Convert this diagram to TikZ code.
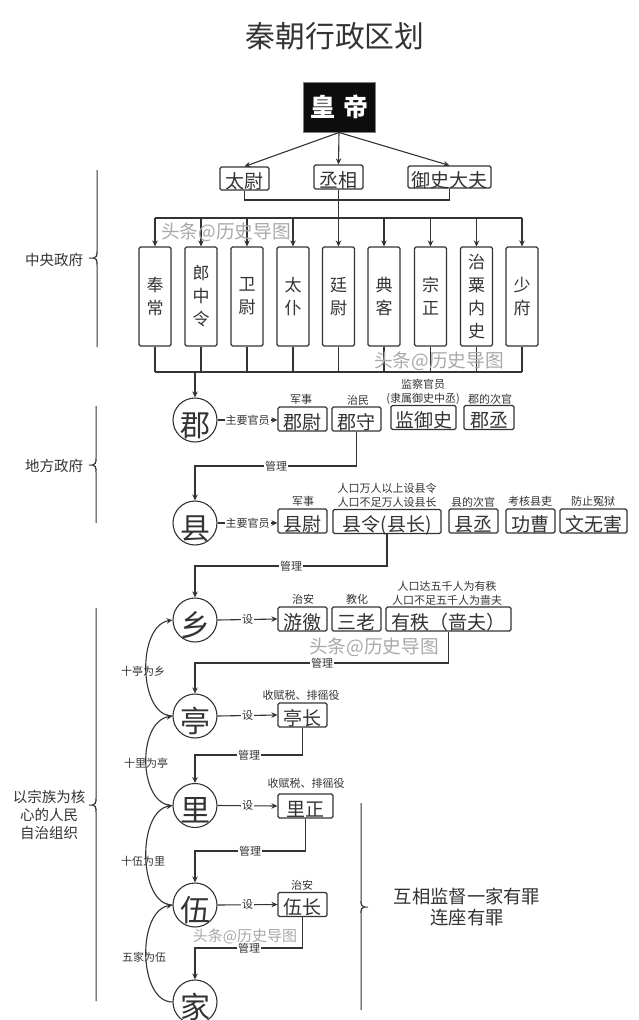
\documentclass[tikz,border=0pt]{standalone}
\usepackage{xcolor}
\usepackage{fontspec}
\setmainfont{Noto Sans CJK SC}
\usetikzlibrary{arrows.meta,positioning}
\definecolor{ink}{HTML}{333333}
\definecolor{mark}{HTML}{A8A8A8}
\newcommand{\fsz}[1]{\fontsize{#1}{#1}\selectfont}
\tikzset{
  line/.style={draw=ink,line width=1.1pt},
  arr/.style={line,-{Stealth[length=6pt,width=5.5pt]}},
  office/.style={draw=ink,line width=1.1pt,rounded corners=1.5pt,inner sep=0pt,text=ink,
    font=\fsz{19},minimum height=24pt,text height=20pt,text depth=0pt},
  tallbox/.style={draw=ink,line width=1.1pt,rounded corners=1.5pt,inner sep=0pt,text=ink,
    font=\fontsize{17}{23}\selectfont,minimum width=32pt,minimum height=99pt,align=center},
  area/.style={circle,draw=ink,line width=1.1pt,inner sep=0pt,text=ink,font=\fsz{30},
    minimum size=44pt,text height=32pt,text depth=0pt},
  note/.style={text=ink,font=\fsz{11},align=center,inner sep=0pt},
  edgetext/.style={note,fill=white,inner sep=1pt},
  side/.style={text=ink,font=\fsz{14.5},align=center,inner sep=0pt},
  wmark/.style={text=mark,font=\fsz{18.7},inner sep=0pt},
}
\begin{document}
\begin{tikzpicture}[x=1pt,y=-1pt]
\path[use as bounding box,clip] (0,0) rectangle (638,1020);

\node[text=ink,font=\fsz{29.8},inner sep=0pt] (title) at (335,36) {秦朝行政区划};

% court
\node[draw=gray,line width=1pt,fill=black!95,text=white,font=\fsz{25}\bfseries,
  minimum width=72pt,minimum height=50pt,inner sep=0pt] (emperor) at (339,107) {皇\hspace{8pt}帝};
\node[office,minimum width=49pt,minimum height=23pt] (taiwei) at (244.5,178.5) {太尉};
\node[office,minimum width=49pt] (chengxiang) at (338.5,177) {丞相};
\node[office,minimum width=83pt,minimum height=22pt] (yushi) at (449.5,177) {御史大夫};
\foreach \n in {taiwei,chengxiang,yushi}
  \draw[arr] (emperor.south) -- (\n.north);

\coordinate (bustop) at (338.5,218);
\coordinate (busbot) at (195,372);
\draw[line] (taiwei.south) |- (338.5,200) -| (yushi.south);

\foreach \n/\x/\t in {fengchang/155/奉\\常, langzhong/201/郎\\中\\令, weiwei/247/卫\\尉,
  taipu/293/太\\仆, tingwei/338.5/廷\\尉, dianke/384/典\\客, zongzheng/430.5/宗\\正,
  zhisu/476.5/治\\粟\\内\\史, shaofu/522/少\\府}{
  \node[tallbox] (\n) at (\x,296.5) {\t};
  \draw[arr] (\n.north |- bustop) -- (\n.north);
  \draw[line] (\n.south) -- (\n.south |- busbot);
}
\draw[line] (chengxiang.south) -- (bustop);
\draw[line] (fengchang.north |- bustop) -- (shaofu.north |- bustop);
\draw[line] (fengchang.south |- busbot) -- (shaofu.south |- busbot);

% circles
\foreach \n/\y/\t in {jun/420/郡, xian/523/县, xiang/620/乡, ting/716/亭, li/805.5/里, wu/905/伍, jia/1002/家}
  \node[area] (\n) at (195,\y) {\t};
\draw[arr] (busbot) -- (jun.north);

% offices
\foreach \n/\x/\y/\w/\t in {junwei/302.5/419/49/郡尉, junshou/356.5/419/49/郡守, jianyu/423.5/417.5/65/监御史,
  juncheng/489/417.5/50/郡丞, xianwei/302.5/521/49/县尉, xianling/387/521.5/108/县令(县长),
  xiancheng/473.5/521/49/县丞, gongcao/530.5/521/49/功曹, wenwu/593.5/521/67/文无害,
  youjiao/302.5/619/49/游徼, sanlao/356.5/619/49/三老, youzhi/448.5/619/125/有秩（啬夫）,
  tingzhang/302.5/715/49/亭长, lizheng/305.5/806/55/里正, wuzhang/302.5/904.5/49/伍长}
  \node[office,minimum width=\w pt] (\n) at (\x,\y) {\t};

% notes above offices
\foreach \n/\x/\y/\t in {na/301/399/军事, nb/358/400/治民, nc/423/392/监察官员\\[3pt](隶属御史中丞), nd/490/399/郡的次官,
  ne/303/501/军事, nf/387/495/人口万人以上设县令\\[3pt]人口不足万人设县长, ng/473/502/县的次官, nh/530/501/考核县吏, ni/593/501/防止冤狱,
  nj/303/599/治安, nk/357/599/教化, nl/447/593/人口达五千人为有秩\\[3pt]人口不足五千人为啬夫,
  nm/301/695/收赋税、排徭役, nn/306/783/收赋税、排徭役, no/302/885/治安}
  \node[note] (\n) at (\x,\y) {\t};

% area to office
\draw[arr] (jun.east) -- node[edgetext] (ea) {主要官员} (junwei.west |- jun.east);
\draw[arr] (xian.east) -- node[edgetext] (eb) {主要官员} (xianwei.west |- xian.east);
\draw[arr] (xiang.east) -- node[edgetext,pos=0.5] (ec) {设} (youjiao.west);
\draw[arr] (ting.east) -- node[edgetext,pos=0.5] (ed) {设} (tingzhang.west);
\draw[arr] (li.east) -- node[edgetext,pos=0.5] (ee) {设} (lizheng.west);
\draw[arr] (wu.east) -- node[edgetext,pos=0.5] (ef) {设} (wuzhang.west);

% management
\foreach \a/\b/\y/\lx/\m in {junshou/xian/466/276/ga, xianling/xiang/566/291/gb, youzhi/ting/663/322/gc,
  tingzhang/li/755/249/gd, lizheng/wu/851/250/ge, wuzhang/jia/948/249/gf}{
  \coordinate (\m c) at (195,\y);
  \draw[arr] (\a.south) |- (\m c) -- (\b.north);
  \node[edgetext] (\m) at (\lx,\y+0.5) {管理};
}

% curved arrows
\foreach \a/\b/\lx/\ly/\t/\m in {ting/xiang/143/671/十亭为乡/ha, li/ting/146/763/十里为亭/hb,
  wu/li/143/861/十伍为里/hc, jia/wu/144/957/五家为伍/hd}{
  \draw[arr] (\a.west) .. controls +(-34,0) and +(-36,6) .. (\b.west);
  \node[note] (\m) at (\lx,\ly) {\t};
}

% braces
\draw[line,line width=1pt,rounded corners=3pt] (97,170) -- (97,254) -- (96,258) -- (87,258) -- (96,258) -- (97,262) -- (97,347);
\draw[line,line width=1pt,rounded corners=3pt] (96,406) -- (96,461) -- (95,465) -- (87,465) -- (95,465) -- (96,469) -- (96,523);
\draw[line,line width=1pt,rounded corners=3pt] (96,608) -- (96,801) -- (95,805) -- (87,805) -- (95,805) -- (96,809) -- (96,1001);
\draw[line,line width=1pt,rounded corners=3pt] (361,803) -- (361,903) -- (362,907) -- (370,907) -- (362,907) -- (361,911) -- (361,1010);
\node[side] (central) at (54,260) {中央政府};
\node[side] (local) at (54,466) {地方政府};
\node[side] (clan) at (49,815) {以宗族为核\\[3.5pt]心的人民\\[3.5pt]自治组织};
\node[text=ink,font=\fsz{18.3},align=center,inner sep=0pt] (mutual) at (467,907) {互相监督一家有罪\\[3.5pt]连座有罪};

% watermarks
\node[wmark] (wa) at (226,232) {头条@历史导图};
\node[wmark] (wb) at (439,361) {头条@历史导图};
\node[wmark] (wc) at (374,647) {头条@历史导图};
\node[wmark,font=\fsz{15}] (wd) at (245,936) {头条@历史导图};
\end{tikzpicture}
\end{document}
